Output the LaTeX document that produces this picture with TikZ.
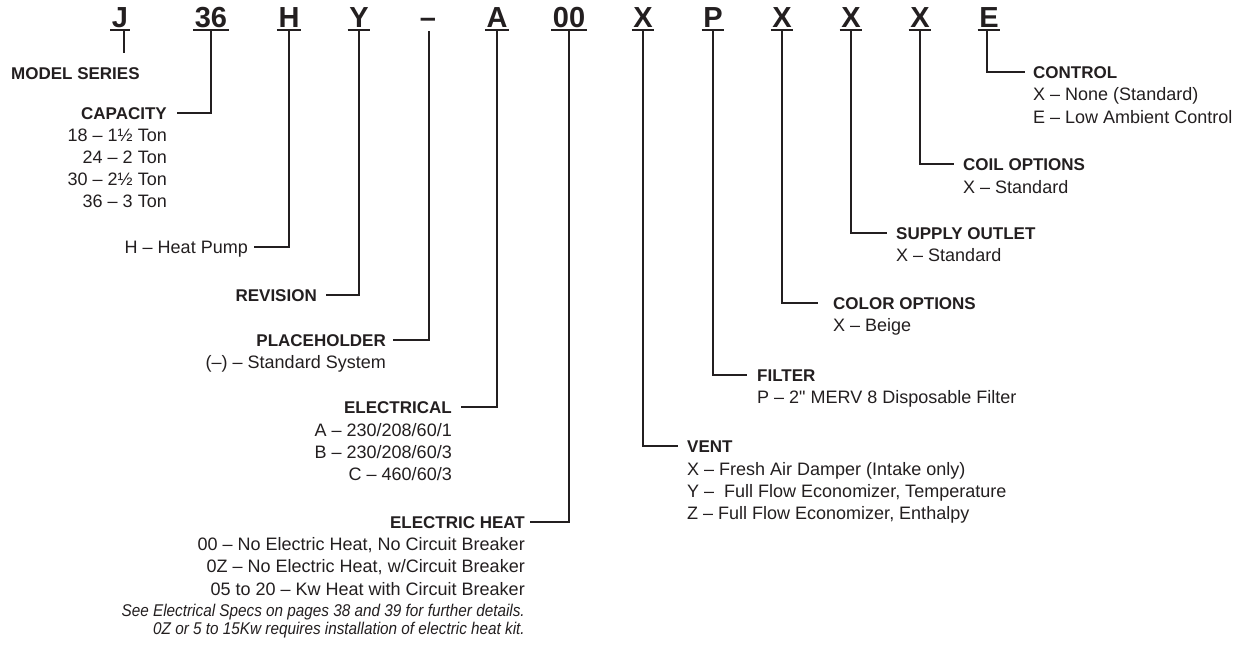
\documentclass[tikz,border=0pt]{standalone}
\usepackage{graphicx}
\usepackage{fontspec}
\setmainfont{Liberation Sans}[Ligatures=TeXOff]
\definecolor{ink}{HTML}{231F20}
\tikzset{
  code/.style={font=\fontsize{29}{30}\selectfont\bfseries, text=ink, inner xsep=1.5pt, inner ysep=0pt, anchor=base},
  ul/.style={draw=ink, line width=1.6pt},
  conn/.style={draw=ink, line width=2.6pt},
  head/.style={font=\fontsize{17}{20}\selectfont\bfseries, text=ink, inner sep=0pt},
  body/.style={font=\fontsize{18}{21}\selectfont, text=ink, inner sep=0pt},
  note/.style={font=\fontsize{17}{21}\selectfont\itshape, text=ink, inner sep=0pt},
}
\begin{document}
\begin{tikzpicture}[x=1pt,y=-1pt]
\useasboundingbox[fill=white] (0,0) rectangle (1238,649);

% model code letters
\node[code] (J)   at (120,27) {J};
\node[code] (c36) at (211,27) {36};
\node[code] (cH)  at (289,27) {H};
\node[code] (cY)  at (359,27) {Y};
\node[code] (cD)  at (428,27) {–};
\node[code] (cA)  at (497,27) {A};
\node[code] (c00) at (569,27) {00};
\node[code] (cX1) at (643,27) {X};
\node[code] (cP)  at (713,27) {P};
\node[code] (cX2) at (782,27) {X};
\node[code] (cX3) at (851,27) {X};
\node[code] (cX4) at (920,27) {X};
\node[code] (cE)  at (989,27) {E};

\foreach \n in {J,c36,cH,cY,cA,c00,cX1,cP,cX2,cX3,cX4,cE}
  \draw[ul] ([yshift=-3pt]\n.base west) -- ([yshift=-3pt]\n.base east);

% left labels
\node[head, anchor=base west] (ms) at (11,79) {MODEL SERIES};

\node[head, anchor=base east] (cap) at (167,119) {CAPACITY};
\node[body, anchor=base east] (cap1) at (167,141) {18 – 1½ Ton};
\node[body, anchor=base east] (cap2) at (167,163) {24 – 2 Ton};
\node[body, anchor=base east] (cap3) at (167,185) {30 – 2½ Ton};
\node[body, anchor=base east] (cap4) at (167,207) {36 – 3 Ton};

\node[body, anchor=base east] (hp) at (248,253) {H – Heat Pump};

\node[head, anchor=base east] (rev) at (317,301) {REVISION};

\node[head, anchor=base east] (ph) at (386,346) {PLACEHOLDER};
\node[body, anchor=base east] (ph1) at (386,368) {(–) – Standard System};

\node[head, anchor=base east] (el) at (452,413) {ELECTRICAL};
\node[body, anchor=base east] (el1) at (452,436) {A – 230/208/60/1};
\node[body, anchor=base east] (el2) at (452,458) {B – 230/208/60/3};
\node[body, anchor=base east] (el3) at (452,480) {C – 460/60/3};

\node[head, anchor=base east] (eh) at (525,528) {ELECTRIC HEAT};
\node[body, anchor=base east] (eh1) at (525,550) {00 – No Electric Heat, No Circuit Breaker};
\node[body, anchor=base east] (eh2) at (525,572) {0Z – No Electric Heat, w/Circuit Breaker};
\node[body, anchor=base east] (eh3) at (525,595) {05 to 20 – Kw Heat with Circuit Breaker};
\node[note, anchor=base east] (eh4) at (525,616) {\scalebox{0.9}[1]{See Electrical Specs on pages 38 and 39 for further details.}};
\node[note, anchor=base east] (eh5) at (525,634) {\scalebox{0.9}[1]{0Z or 5 to 15Kw requires installation of electric heat kit.}};

% right labels
\node[head, anchor=base west] (ctl) at (1033,78) {CONTROL};
\node[body, anchor=base west] (ctl1) at (1033,100) {X – None (Standard)};
\node[body, anchor=base west] (ctl2) at (1033,123) {E – Low Ambient Control};

\node[head, anchor=base west] (coil) at (963,170) {COIL OPTIONS};
\node[body, anchor=base west] (coil1) at (963,193) {X – Standard};

\node[head, anchor=base west] (sup) at (896,239) {SUPPLY OUTLET};
\node[body, anchor=base west] (sup1) at (896,261) {X – Standard};

\node[head, anchor=base west] (col) at (833,309) {COLOR OPTIONS};
\node[body, anchor=base west] (col1) at (833,331) {X – Beige};

\node[head, anchor=base west] (fil) at (757,381) {FILTER};
\node[body, anchor=base west] (fil1) at (757,403) {P – 2" MERV 8 Disposable Filter};

\node[head, anchor=base west] (vent) at (687,452) {VENT};
\node[body, anchor=base west] (vent1) at (687,475) {X – Fresh Air Damper (Intake only)};
\node[body, anchor=base west] (vent2) at (687,497) {Y – \ Full Flow Economizer, Temperature};
\node[body, anchor=base west] (vent3) at (687,519) {Z – Full Flow Economizer, Enthalpy};

% connectors
\coordinate (jend) at (124,53);
\draw[conn] ([xshift=4pt,yshift=-3pt]J.base) -- (jend);
\draw[conn] ([yshift=-3pt]c36.base) |- ([xshift=10pt,yshift=6pt]cap.base east);
\draw[conn] ([yshift=-3pt]cH.base)  |- ([xshift=6pt,yshift=6pt]hp.base east);
\draw[conn] ([yshift=-3pt]cY.base)  |- ([xshift=9pt,yshift=6pt]rev.base east);
\draw[conn] ([xshift=1pt,yshift=-4pt]cD.base)  |- ([xshift=7pt,yshift=6pt]ph.base east);
\draw[conn] ([yshift=-3pt]cA.base)  |- ([xshift=9pt,yshift=6pt]el.base east);
\draw[conn] ([yshift=-3pt]c00.base) |- ([xshift=5pt,yshift=6pt]eh.base east);
\draw[conn] ([yshift=-3pt]cX1.base) |- ([xshift=-9pt,yshift=6pt]vent.base west);
\draw[conn] ([yshift=-3pt]cP.base)  |- ([xshift=-10pt,yshift=6pt]fil.base west);
\draw[conn] ([yshift=-3pt]cX2.base) |- ([xshift=-15pt,yshift=6pt]col.base west);
\draw[conn] ([yshift=-3pt]cX3.base) |- ([xshift=-9pt,yshift=6pt]sup.base west);
\draw[conn] ([yshift=-3pt]cX4.base) |- ([xshift=-9pt,yshift=6pt]coil.base west);
\draw[conn] ([xshift=-2pt,yshift=-3pt]cE.base) |- ([xshift=-8pt,yshift=6pt]ctl.base west);
\end{tikzpicture}
\end{document}
